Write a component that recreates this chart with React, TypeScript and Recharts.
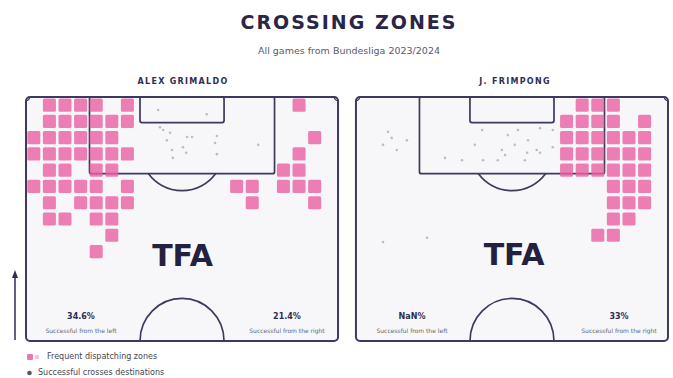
import React from "react";
import { ScatterChart, Scatter, XAxis, YAxis, ReferenceArea } from "recharts";

// ---------- data ----------
const playerNames = ["ALEX GRIMALDO", "J. FRIMPONG"];

// frequent dispatching zones: for each grid row (0 = goal line), the grid columns (0..19) that are filled
const grimaldoZoneRows: number[][] = [
  [1, 2, 3, 4, 6, 17],
  [1, 2, 3, 4, 5, 6],
  [0, 1, 2, 3, 4, 5, 18],
  [0, 1, 2, 3, 4, 5, 6, 17],
  [1, 2, 4, 5, 16, 17],
  [0, 1, 2, 3, 4, 6, 13, 14, 16, 17, 18],
  [1, 3, 4, 5, 6, 14, 18],
  [1, 2, 4, 5],
  [5],
  [4],
];
const frimpongZoneRows: number[][] = [
  [14, 15, 16],
  [13, 14, 15, 16, 18],
  [13, 14, 15, 16, 17, 18],
  [13, 14, 15, 16, 17, 18],
  [13, 14, 15, 16, 17, 18],
  [16, 17, 18],
  [16, 17, 18],
  [16, 17],
  [15, 16],
];

// successful cross destinations, pitch metres [x across, y from goal line]
const grimaldoCrossEnds: [number, number][] = [
  [28.8, 2.8], [39.4, 3.7], [29.9, 7.1], [31.4, 7.7], [30.7, 9.3], [35.1, 8.6],
  [36.2, 8.6], [41.6, 8.4], [41.2, 9.9], [34.2, 10.8], [32.0, 13.1], [34.9, 12.0],
  [41.6, 12.3], [50.6, 10.3], [29.2, 6.5], [31.8, 11.4],
];
const frimpongCrossEnds: [number, number][] = [
  [7.0, 7.5], [7.8, 8.8], [11.1, 9.3], [8.9, 11.4], [5.9, 10.3], [27.5, 7.1],
  [33.1, 8.2], [35.3, 7.1], [37.5, 9.3], [34.6, 10.3], [25.9, 10.3], [19.4, 13.1],
  [23.1, 13.6], [27.7, 13.6], [30.9, 13.6], [32.5, 12.5], [36.8, 13.6], [39.4, 11.4],
  [31.8, 11.4], [37.3, 12.0], [40.1, 12.0], [42.9, 10.8], [42.9, 7.1], [40.1, 6.7],
  [5.9, 31.2], [15.5, 30.3],
];

const grimaldoRates = ["34.6%", "21.4%"];
const frimpongRates = ["NaN%", "33%"];
const rateLabels = ["Successful from the left", "Successful from the right"];

// ---------- geometry (pitch metres) ----------
const PITCH_W = 68;
const PITCH_H = 52.5;
const GAP = 3.9;
const TOTAL_W = PITCH_W * 2 + GAP;
const COLS = 20;
const ROWS = 15;
const CELL_W = PITCH_W / COLS;
const CELL_H = PITCH_H / ROWS;
const OFFSETS = [0, PITCH_W + GAP];

const NAVY = "#2f2d52";
const LINE = "#3c3a5e";
const PINK = "#ea5fa3";

function buildCells(rows: number[][], ox: number) {
  const out: { x1: number; x2: number; y1: number; y2: number; key: string }[] = [];
  rows.forEach((cols, r) => {
    cols.forEach((c) => {
      out.push({
        key: `${ox}-${r}-${c}`,
        x1: ox + c * CELL_W + 0.28,
        x2: ox + (c + 1) * CELL_W - 0.28,
        y1: r * CELL_H + 0.33,
        y2: (r + 1) * CELL_H - 0.33,
      });
    });
  });
  return out;
}

const cellsAll = [
  ...buildCells(grimaldoZoneRows, OFFSETS[0]),
  ...buildCells(frimpongZoneRows, OFFSETS[1]),
];
const dotsA = grimaldoCrossEnds.map(([x, y]) => ({ x: x + OFFSETS[0], y }));
const dotsB = frimpongCrossEnds.map(([x, y]) => ({ x: x + OFFSETS[1], y }));

const OutlineShape = (p: any) => (
  <rect x={p.x} y={p.y} width={p.width} height={p.height} rx={4} ry={4}
    fill="#f7f7f9" stroke={LINE} strokeWidth={2} />
);
const BoxShape = (p: any) => (
  <rect x={p.x} y={p.y} width={p.width} height={p.height} rx={2} ry={2}
    fill="none" stroke={LINE} strokeWidth={1.7} />
);
const PenArcShape = (p: any) => {
  const rx = p.width / 2, ry = p.height / 2;
  const cx = p.x + rx, cy = p.y + ry;
  const dx = 0.799, dy = 0.601;
  const d = `M ${cx - rx * dx} ${cy + ry * dy} A ${rx} ${ry} 0 0 0 ${cx + rx * dx} ${cy + ry * dy}`;
  return <path d={d} fill="none" stroke={LINE} strokeWidth={1.7} />;
};
const CenterArcShape = (p: any) => {
  const rx = p.width / 2, ry = p.height;
  const d = `M ${p.x} ${p.y + p.height} A ${rx} ${ry} 0 0 1 ${p.x + p.width} ${p.y + p.height}`;
  return <path d={d} fill="none" stroke={LINE} strokeWidth={1.7} />;
};
const CornerL = (p: any) => (
  <path d={`M ${p.x + p.width} ${p.y} A ${p.width} ${p.height} 0 0 1 ${p.x} ${p.y + p.height}`}
    fill="none" stroke={LINE} strokeWidth={1.3} />
);
const CornerR = (p: any) => (
  <path d={`M ${p.x} ${p.y} A ${p.width} ${p.height} 0 0 0 ${p.x + p.width} ${p.y + p.height}`}
    fill="none" stroke={LINE} strokeWidth={1.3} />
);
const CellShape = (p: any) => (
  <rect x={p.x} y={p.y} width={p.width} height={p.height} rx={1.5} ry={1.5}
    fill={PINK} fillOpacity={0.8} />
);
const DotShape = (p: any) => <circle cx={p.cx} cy={p.cy} r={1.3} fill="#bcbbcb" />;

function pitchMarks(ox: number) {
  return [
    <ReferenceArea key={`o${ox}`} x1={ox} x2={ox + PITCH_W} y1={0} y2={PITCH_H} shape={OutlineShape} ifOverflow="visible" />,
    <ReferenceArea key={`p${ox}`} x1={ox + 34 - 20.16} x2={ox + 34 + 20.16} y1={0} y2={16.5} shape={BoxShape} ifOverflow="visible" />,
    <ReferenceArea key={`s${ox}`} x1={ox + 34 - 9.16} x2={ox + 34 + 9.16} y1={0} y2={5.5} shape={BoxShape} ifOverflow="visible" />,
    <ReferenceArea key={`a${ox}`} x1={ox + 34 - 9.15} x2={ox + 34 + 9.15} y1={11 - 9.15} y2={11 + 9.15} shape={PenArcShape} ifOverflow="visible" />,
    <ReferenceArea key={`c${ox}`} x1={ox + 34 - 9.15} x2={ox + 34 + 9.15} y1={PITCH_H - 9.15} y2={PITCH_H} shape={CenterArcShape} ifOverflow="visible" />,
    <ReferenceArea key={`kl${ox}`} x1={ox} x2={ox + 0.8} y1={0} y2={0.8} shape={CornerL} ifOverflow="visible" />,
    <ReferenceArea key={`kr${ox}`} x1={ox + PITCH_W - 0.8} x2={ox + PITCH_W} y1={0} y2={0.8} shape={CornerR} ifOverflow="visible" />,
  ];
}

const abs = (x: number, y: number, extra: React.CSSProperties = {}): React.CSSProperties => ({
  position: "absolute",
  left: x,
  top: y,
  transform: "translate(-50%, -50%)",
  whiteSpace: "nowrap",
  lineHeight: 1,
  ...extra,
});

const statPos = [
  [81, 287],
  [412, 619],
];

export default function App() {
  const rates = [grimaldoRates, frimpongRates];
  return (
    <div style={{ position: "absolute", left: 0, top: 0, width: 673, height: 378, background: "#ffffff", fontFamily: "'DejaVu Sans', sans-serif", overflow: "hidden" }}>
      <ScatterChart width={673} height={378} margin={{ top: 97, left: 26, right: 5, bottom: 37 }}>
        <XAxis type="number" dataKey="x" domain={[0, TOTAL_W]} hide allowDataOverflow />
        <YAxis type="number" dataKey="y" domain={[0, PITCH_H]} reversed hide allowDataOverflow />
        {pitchMarks(OFFSETS[0])}
        {pitchMarks(OFFSETS[1])}
        {cellsAll.map((c) => (
          <ReferenceArea key={c.key} x1={c.x1} x2={c.x2} y1={c.y1} y2={c.y2} shape={CellShape} ifOverflow="visible" />
        ))}
        <Scatter data={dotsA} shape={DotShape} isAnimationActive={false} />
        <Scatter data={dotsB} shape={DotShape} isAnimationActive={false} />
      </ScatterChart>

      <div style={abs(349, 22, { fontSize: 19, fontWeight: 700, color: "#2a2648", letterSpacing: 2 })}>CROSSING ZONES</div>
      <div style={abs(349, 51, { fontSize: 9.5, color: "#5a5a6a" })}>All games from Bundesliga 2023/2024</div>

      <div style={abs(183, 82, { fontSize: 8, fontWeight: 700, color: NAVY, letterSpacing: 1.3 })}>{playerNames[0]}</div>
      <div style={abs(515, 82, { fontSize: 8, fontWeight: 700, color: NAVY, letterSpacing: 1.3 })}>{playerNames[1]}</div>

      <div style={abs(182.5, 256, { fontSize: 30, fontWeight: 700, color: "#24203f" })}>TFA</div>
      <div style={abs(514, 255, { fontSize: 30, fontWeight: 700, color: "#24203f" })}>TFA</div>

      {statPos.map((pair, pi) =>
        pair.map((x, si) => (
          <React.Fragment key={`${pi}-${si}`}>
            <div style={abs(x, 317, { fontSize: 8, fontWeight: 700, color: NAVY })}>{rates[pi][si]}</div>
            <div style={abs(x, 331, { fontSize: 6, color: "#666670" })}>{rateLabels[si]}</div>
          </React.Fragment>
        ))
      )}

      <svg width={673} height={378} style={{ position: "absolute", left: 0, top: 0, pointerEvents: "none" }}>
        <line x1={15} y1={276} x2={15} y2={340} stroke={NAVY} strokeWidth={1.5} />
        <polygon points="12,278 18,278 15,270" fill={NAVY} />
        <rect x={27} y={354} width={6} height={6} rx={1} fill={PINK} fillOpacity={0.85} />
        <rect x={35} y={355} width={4} height={4} rx={1} fill={PINK} fillOpacity={0.4} />
        <circle cx={29.5} cy={373} r={2.3} fill="#555566" />
      </svg>
      <div style={{ position: "absolute", left: 47, top: 357, transform: "translateY(-50%)", fontSize: 8, color: "#444455", lineHeight: 1, whiteSpace: "nowrap" }}>Frequent dispatching zones</div>
      <div style={{ position: "absolute", left: 38, top: 373, transform: "translateY(-50%)", fontSize: 8, color: "#444455", lineHeight: 1, whiteSpace: "nowrap" }}>Successful crosses destinations</div>
    </div>
  );
}
